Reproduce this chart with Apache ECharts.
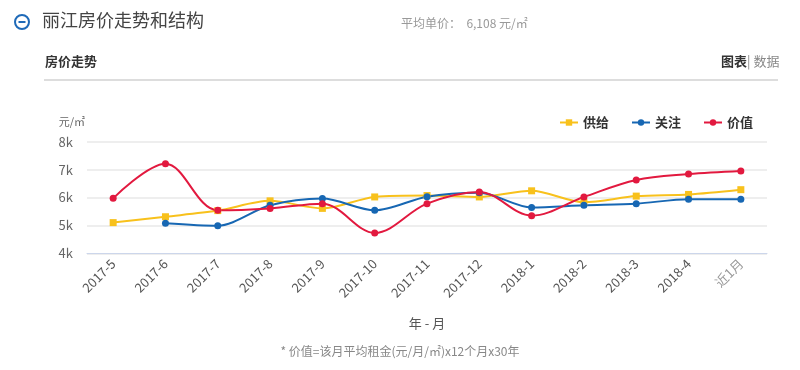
<!DOCTYPE html>
<html><head><meta charset="utf-8">
<script src="https://cdn.jsdelivr.net/npm/echarts@6/dist/echarts.min.js"></script>
<style>html,body{margin:0;padding:0;background:#fff}#c{width:800px;height:370px}</style>
</head><body><div id="c"></div>
<script>
const categories = ['2017-5','2017-6','2017-7','2017-8','2017-9','2017-10','2017-11','2017-12','2018-1','2018-2','2018-3','2018-4','近1月'];
const supply = [5100,5310,5530,5880,5610,6020,6070,6020,6240,5830,6050,6110,6280];
const attention = [null,5080,4990,5720,5960,5540,6030,6170,5640,5720,5780,5940,5940];
const value = [5970,7210,5540,5610,5780,4730,5780,6200,5350,6020,6630,6840,6950];
const yTicks = [4000,5000,6000,7000,8000];
const seriesNames = ['供给','关注','价值'];
const colors = ['#f8c11c','#1767b3','#e2193f'];

const chart = echarts.init(document.getElementById('c'));
chart.setOption({
  animation:false,
  textStyle:{fontFamily:'"Noto Sans CJK SC","Noto Sans",sans-serif'},
  color:colors,
  legend:{
    right:42, top:111, itemGap:22, itemWidth:18, itemHeight:8,
    textStyle:{fontSize:13,fontWeight:'bold',color:'#333'},
    data:seriesNames
  },
  grid:{left:87,right:33,top:141.7,bottom:116.7},
  xAxis:{
    type:'category', data:categories, boundaryGap:true,
    name:'年 - 月', nameLocation:'middle', nameGap:63,
    nameTextStyle:{fontSize:13,color:'#555'},
    axisLine:{lineStyle:{color:'#ccd6eb'}},
    axisTick:{lineStyle:{color:'#ccd6eb'},length:8},
    axisLabel:{rotate:45,fontSize:13,color:function(v){return v==='近1月'?'#999':'#555';},margin:8}
  },
  yAxis:{
    type:'value', min:yTicks[0], max:yTicks[yTicks.length-1], interval:1000,
    name:'元/㎡', nameGap:14, nameTextStyle:{align:'right',fontSize:11,color:'#666',padding:[0,2,0,0]},
    axisLine:{show:false}, axisTick:{show:false},
    splitLine:{lineStyle:{color:'#eeeeee',width:2}},
    axisLabel:{fontSize:13,color:'#666',margin:14,formatter:function(v){return (v/1000)+'k';}}
  },
  series:[
    {name:seriesNames[0],type:'line',data:supply,smooth:0.3,symbol:'rect',symbolSize:7,lineStyle:{width:2}},
    {name:seriesNames[1],type:'line',data:attention,smooth:0.3,symbol:'circle',symbolSize:7,lineStyle:{width:2}},
    {name:seriesNames[2],type:'line',data:value,smooth:0.35,symbol:'circle',symbolSize:7,lineStyle:{width:2}}
  ],
  graphic:[
    {type:'circle',shape:{cx:22,cy:22,r:7},style:{fill:'#fff',stroke:'#1f6ab8',lineWidth:2}},
    {type:'line',shape:{x1:18.5,y1:22,x2:25.5,y2:22},style:{stroke:'#1f6ab8',lineWidth:2}},
    {type:'text',left:42,top:11,style:{text:'丽江房价走势和结构',fontSize:18,fill:'#444',fontFamily:'"Noto Sans CJK SC",sans-serif'}},
    {type:'text',left:401,top:17,style:{text:'平均单价：  6,108 元/㎡',fontSize:12,fill:'#999',fontFamily:'"Noto Sans CJK SC",sans-serif'}},
    {type:'text',left:45,top:55,style:{text:'房价走势',fontSize:13,fontWeight:'bold',fill:'#333',fontFamily:'"Noto Sans CJK SC",sans-serif'}},
    {type:'line',shape:{x1:44,y1:80,x2:778,y2:80},style:{stroke:'#dddddd',lineWidth:2}},
    {type:'text',left:721,top:55,style:{text:'图表',fontSize:13,fontWeight:'bold',fill:'#333',fontFamily:'"Noto Sans CJK SC",sans-serif'}},
    {type:'text',left:747,top:55,style:{text:'| 数据',fontSize:13,fill:'#888',fontFamily:'"Noto Sans CJK SC",sans-serif'}},
    {type:'text',left:'center',top:345,style:{text:'* 价值=该月平均租金(元/月/㎡)x12个月x30年',fontSize:12,fill:'#888',fontFamily:'"Noto Sans CJK SC",sans-serif'}}
  ]
});
</script></body></html>
